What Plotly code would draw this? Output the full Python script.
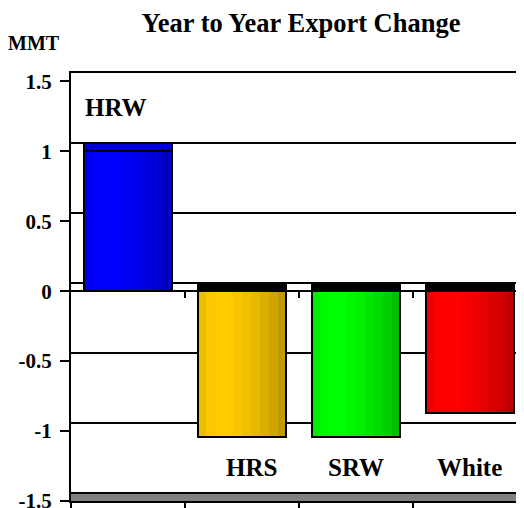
import plotly.graph_objects as go

CATEGORIES = ["HRW", "HRS", "SRW", "White"]
CHANGE_MMT = [1.0, -1.04, -1.04, -0.87]
BAR_COLORS = ["#0000FF", "#FFCC00", "#00FF00", "#FF0000"]
Y_TICKS = [-1.5, -1, -0.5, 0, 0.5, 1, 1.5]
Y_TICK_LABELS = ["-1.5", "-1", "-0.5", "0", "0.5", "1", "1.5"]

# cylinder look: left-to-right brightness of vertical strips
SHADE = [0.93, 0.98, 1.0, 1.0, 0.97, 0.94, 0.9, 0.86, 0.81, 0.75]
BAR_W = 0.78
DEPTH = 0.06          # pseudo-3D depth of the back wall, in MMT units
X_RANGE = [-0.5, -0.5 + 453 / 114]
Y_RANGE = [-1.5, 1.5 + DEPTH]
FONT = "Liberation Serif"
LABEL_XSHIFT = [-12, 9, 0, -1]

# the page body has an 8px default margin, so the figure is laid out 8px in
W, H = 516, 500


def shade(hex_color, f):
    r, g, b = (int(hex_color[i:i + 2], 16) for i in (1, 3, 5))
    return f"rgb({round(r * f)},{round(g * f)},{round(b * f)})"


fig = go.Figure()

n = len(SHADE)
strip = BAR_W / n
for k, f in enumerate(SHADE):
    fig.add_trace(go.Bar(
        x=CATEGORIES, y=CHANGE_MMT,
        width=strip * 1.08, offset=-BAR_W / 2 + k * strip,
        marker=dict(color=[shade(c, f) for c in BAR_COLORS], line=dict(width=0)),
        showlegend=False, hoverinfo="skip",
    ))

# outline of each cylinder body
fig.add_trace(go.Bar(
    x=CATEGORIES, y=CHANGE_MMT, width=BAR_W,
    marker=dict(color="rgba(0,0,0,0)", line=dict(color="black", width=2)),
    showlegend=False,
    hovertemplate="%{x}: %{y:.2f} MMT<extra></extra>",
))

# cylinder caps (top face)
fig.add_trace(go.Bar(
    x=CATEGORIES, y=[DEPTH] * len(CATEGORIES),
    base=[v if v > 0 else 0 for v in CHANGE_MMT],
    width=BAR_W,
    marker=dict(color=[shade(c, 0.82) if v > 0 else "black"
                       for c, v in zip(BAR_COLORS, CHANGE_MMT)],
                line=dict(color="black", width=2)),
    showlegend=False, hoverinfo="skip",
))

# dummy traces so the overlay axes get drawn
fig.add_trace(go.Scatter(x=[None], y=[None], xaxis="x2", yaxis="y", showlegend=False, hoverinfo="skip"))
fig.add_trace(go.Scatter(x=[None], y=[None], xaxis="x", yaxis="y2", showlegend=False, hoverinfo="skip"))

annotations = [
    dict(x=cat, y=1.31 if v > 0 else -1.26, text=cat, showarrow=False,
         xshift=dx, font=dict(family=FONT, size=25, color="black", weight="bold"))
    for cat, v, dx in zip(CATEGORIES, CHANGE_MMT, LABEL_XSHIFT)
]
annotations.append(dict(
    x=(34 - 71) / 453, y=(501 - 43) / 428, xref="paper", yref="paper",
    text="MMT", showarrow=False, xanchor="center", yanchor="middle",
    font=dict(family=FONT, size=20, color="black", weight="bold"),
))

fig.update_layout(
    width=W, height=H,
    margin=dict(l=63, r=0, t=65, b=7),
    paper_bgcolor="white", plot_bgcolor="white",
    barmode="overlay", bargap=0,
    showlegend=False,
    title=dict(text="Year to Year Export Change", x=293 / W, xanchor="center",
               y=1 - 15 / H, yanchor="middle", automargin=False,
               font=dict(family=FONT, size=26.5, color="black", weight="bold")),
    xaxis=dict(type="category", range=X_RANGE, showticklabels=False, automargin=False,
               ticks="outside", tickson="boundaries", ticklen=7, tickwidth=2, tickcolor="black",
               showline=True, mirror=True, linewidth=2, linecolor="black", showgrid=False),
    xaxis2=dict(overlaying="x", anchor="free", position=(0 - Y_RANGE[0]) / (Y_RANGE[1] - Y_RANGE[0]),
                range=X_RANGE, tickvals=[i + 0.5 for i in range(len(CATEGORIES) - 1)],
                ticks="outside", ticklen=6, tickwidth=2, tickcolor="black", automargin=False,
                showticklabels=False, showline=False, showgrid=False, zeroline=False),
    yaxis=dict(range=Y_RANGE, tickvals=Y_TICKS, ticktext=Y_TICK_LABELS, automargin=False,
               ticks="outside", ticklen=9, tickwidth=2, tickcolor="black",
               ticklabelstandoff=4, ticklabeloverflow="allow",
               showline=True, linewidth=2, linecolor="black", showgrid=False,
               zeroline=True, zerolinecolor="black", zerolinewidth=2,
               tickfont=dict(family=FONT, size=21, color="black", weight="bold")),
    yaxis2=dict(overlaying="y", anchor="x", range=[Y_RANGE[0] - DEPTH, Y_RANGE[1] - DEPTH],
                tickvals=Y_TICKS, showticklabels=False, ticks="", automargin=False,
                showgrid=True, gridcolor="black", gridwidth=2,
                showline=False, zeroline=False),
    shapes=[dict(type="rect", xref="paper", yref="y", x0=0, x1=1,
                 y0=Y_RANGE[0], y1=Y_RANGE[0] + DEPTH,
                 fillcolor="#808080", line=dict(width=0), layer="below")],
    annotations=annotations,
)

fig.write_html("out.html")
